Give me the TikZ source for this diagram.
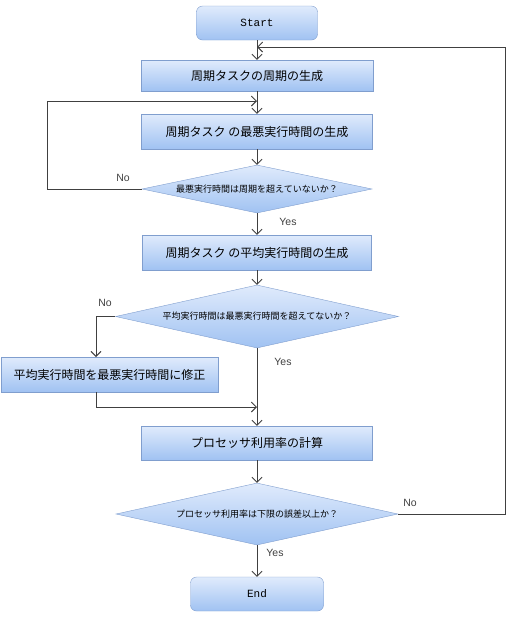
\documentclass[tikz,border=0pt]{standalone}
\usepackage{fontspec}
\setmonofont{Liberation Mono}
\newfontfamily\jpfont{Noto Sans CJK JP}
\newfontfamily\labfont{Liberation Sans}
\usetikzlibrary{arrows.meta,shapes.geometric}
\definecolor{BoxTop}{RGB}{224,235,252}
\definecolor{BoxBottom}{RGB}{160,194,242}
\definecolor{BoxEdge}{RGB}{128,158,206}
\definecolor{LineGray}{RGB}{64,64,64}

\tikzset{
  stepbox/.style={draw=BoxEdge,top color=BoxTop,bottom color=BoxBottom,inner sep=0pt,
    font=\jpfont\fontsize{12}{14}\selectfont},
  termbox/.style={stepbox,rounded corners=6pt,font=\ttfamily\fontsize{11}{13}\selectfont},
  testbox/.style={diamond,draw=BoxEdge,top color=BoxTop,bottom color=BoxBottom,inner sep=0pt,
    font=\jpfont\fontsize{9}{11}\selectfont},
  flow/.style={draw=LineGray,line width=0.9pt,-{Straight Barb[length=5pt,width=10pt]}},
  answer/.style={font=\labfont\fontsize{10.5}{12}\selectfont,text=LineGray},
}

\begin{document}
\begin{tikzpicture}[x=1pt,y=-1pt]
  \useasboundingbox (0,0) rectangle (507,641);

  \node[termbox,minimum width=121pt,minimum height=34pt] (start) at (257,23) {Start};
  \node[stepbox,minimum width=232pt,minimum height=31pt] (period) at (257,75.5) {周期タスクの周期の生成};
  \node[stepbox,minimum width=231pt,minimum height=35pt] (worst) at (257,131.5) {周期タスク の最悪実行時間の生成};
  \node[testbox,aspect=4.79,minimum width=230pt,minimum height=48pt] (checkworst) at (257,189) {最悪実行時間は周期を超えていないか？};
  \node[stepbox,minimum width=229pt,minimum height=35pt] (avg) at (257,252.5) {周期タスク の平均実行時間の生成};
  \node[testbox,aspect=4.49,minimum width=283pt,minimum height=63pt] (checkavg) at (257,316.5) {平均実行時間は最悪実行時間を超えてないか？};
  \node[stepbox,minimum width=217pt,minimum height=35pt] (fix) at (109.5,374.5) {平均実行時間を最悪実行時間に修正};
  \node[stepbox,minimum width=231pt,minimum height=34pt] (util) at (257,443) {プロセッサ利用率の計算};
  \node[testbox,aspect=4.55,minimum width=282pt,minimum height=62pt] (checkutil) at (257,514) {プロセッサ利用率は下限の誤差以上か？};
  \node[termbox,minimum width=133pt,minimum height=34pt] (end) at (257,594) {End};

  % join points of the loops
  \coordinate (backtop) at (257,47);
  \coordinate (backright) at (505,47);
  \coordinate (looptop) at (257,101);
  \coordinate (loopleft) at (47,101);
  \coordinate (fixin) at (96,357);
  \coordinate (fixout) at (96,392);
  \coordinate (fixjoin) at (257,407);

  \draw[flow] (start) -- (period);
  \draw[flow] (period) -- (worst);
  \draw[flow] (worst) -- (checkworst);
  \draw[flow] (checkworst) -- (avg);
  \draw[flow] (checkworst.west) -| (loopleft) -- (looptop);
  \draw[flow] (avg) -- (checkavg);
  \draw[flow] (checkavg.west) -| (fixin);
  \draw[flow] (fixout) |- (fixjoin);
  \draw[flow] (checkavg) -- (util);
  \draw[flow] (util) -- (checkutil);
  \draw[flow] (checkutil) -- (end);
  \draw[flow] (checkutil.east) -| (backright) -- (backtop);

  \node[answer] (noworst) at (123,178) {No};
  \node[answer] (yesworst) at (288,222) {Yes};
  \node[answer] (noavg) at (105,303) {No};
  \node[answer] (yesavg) at (283,362) {Yes};
  \node[answer] (noutil) at (410,503) {No};
  \node[answer] (yesutil) at (275,553) {Yes};
\end{tikzpicture}
\end{document}
